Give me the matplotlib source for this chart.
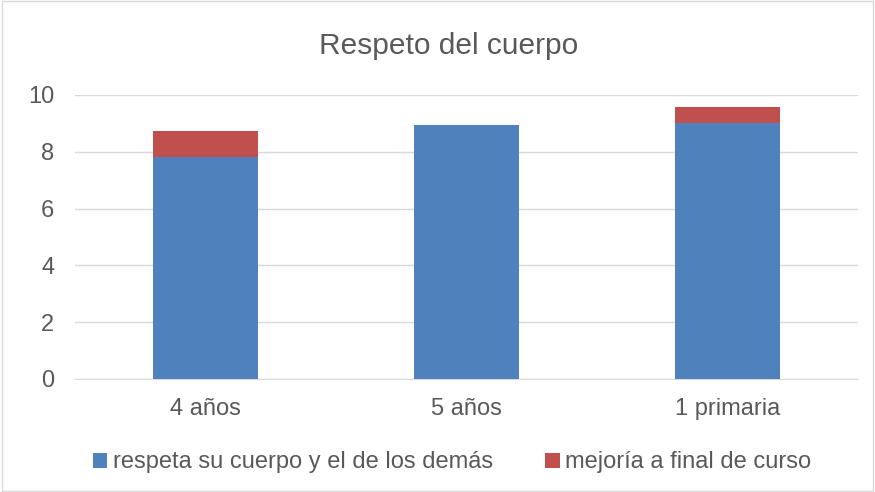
import numpy as np
import matplotlib.pyplot as plt

plt.rcParams['font.family'] = ['Liberation Sans', 'DejaVu Sans']

categorias = ["4 años", "5 años", "1 primaria"]
respeta = [7.8, 8.95, 9.0]
mejoria = [0.92, 0.0, 0.57]

fig = plt.figure(figsize=(8.75, 4.92), dpi=100)
ax = fig.add_axes([0.0857, 0.2297, 0.895, 0.5773])

x = np.arange(len(categorias))
ax.bar(x, respeta, width=0.4, color="#4f81bd", label="respeta su cuerpo y el de los demás", zorder=3)
ax.bar(x, mejoria, width=0.4, bottom=respeta, color="#c0504d", label="mejoría a final de curso", zorder=3)

ax.set_xlim(-0.5, 2.5)
ax.set_ylim(0, 10)
ax.set_yticks([0, 2, 4, 6, 8, 10])
ax.set_xticks(x)
ax.set_xticklabels(categorias)
ax.tick_params(axis="both", length=0, labelsize=17, colors="#595959")
ax.tick_params(axis="x", pad=14)
ax.tick_params(axis="y", pad=15)
ax.grid(axis="y", color="#d9d9d9", linewidth=1, zorder=0)
for s in ["top", "right", "left"]:
    ax.spines[s].set_visible(False)
ax.spines["bottom"].set_color("#d9d9d9")

fig.text(0.513, 0.907, "Respeto del cuerpo", ha="center", va="center", fontsize=21.5, color="#595959")

fig.legend(loc="center", bbox_to_anchor=(0.517, 0.06), ncol=2, frameon=False,
           fontsize=17, handlelength=0.6, handleheight=0.6, handletextpad=0.25,
           columnspacing=2.2, labelcolor="#595959")

fig.patches.append(plt.Rectangle((0.002, 0.003), 0.996, 0.994, transform=fig.transFigure,
                                 fill=False, edgecolor="#d9d9d9", linewidth=1))

fig.savefig("out.png", dpi=100)
